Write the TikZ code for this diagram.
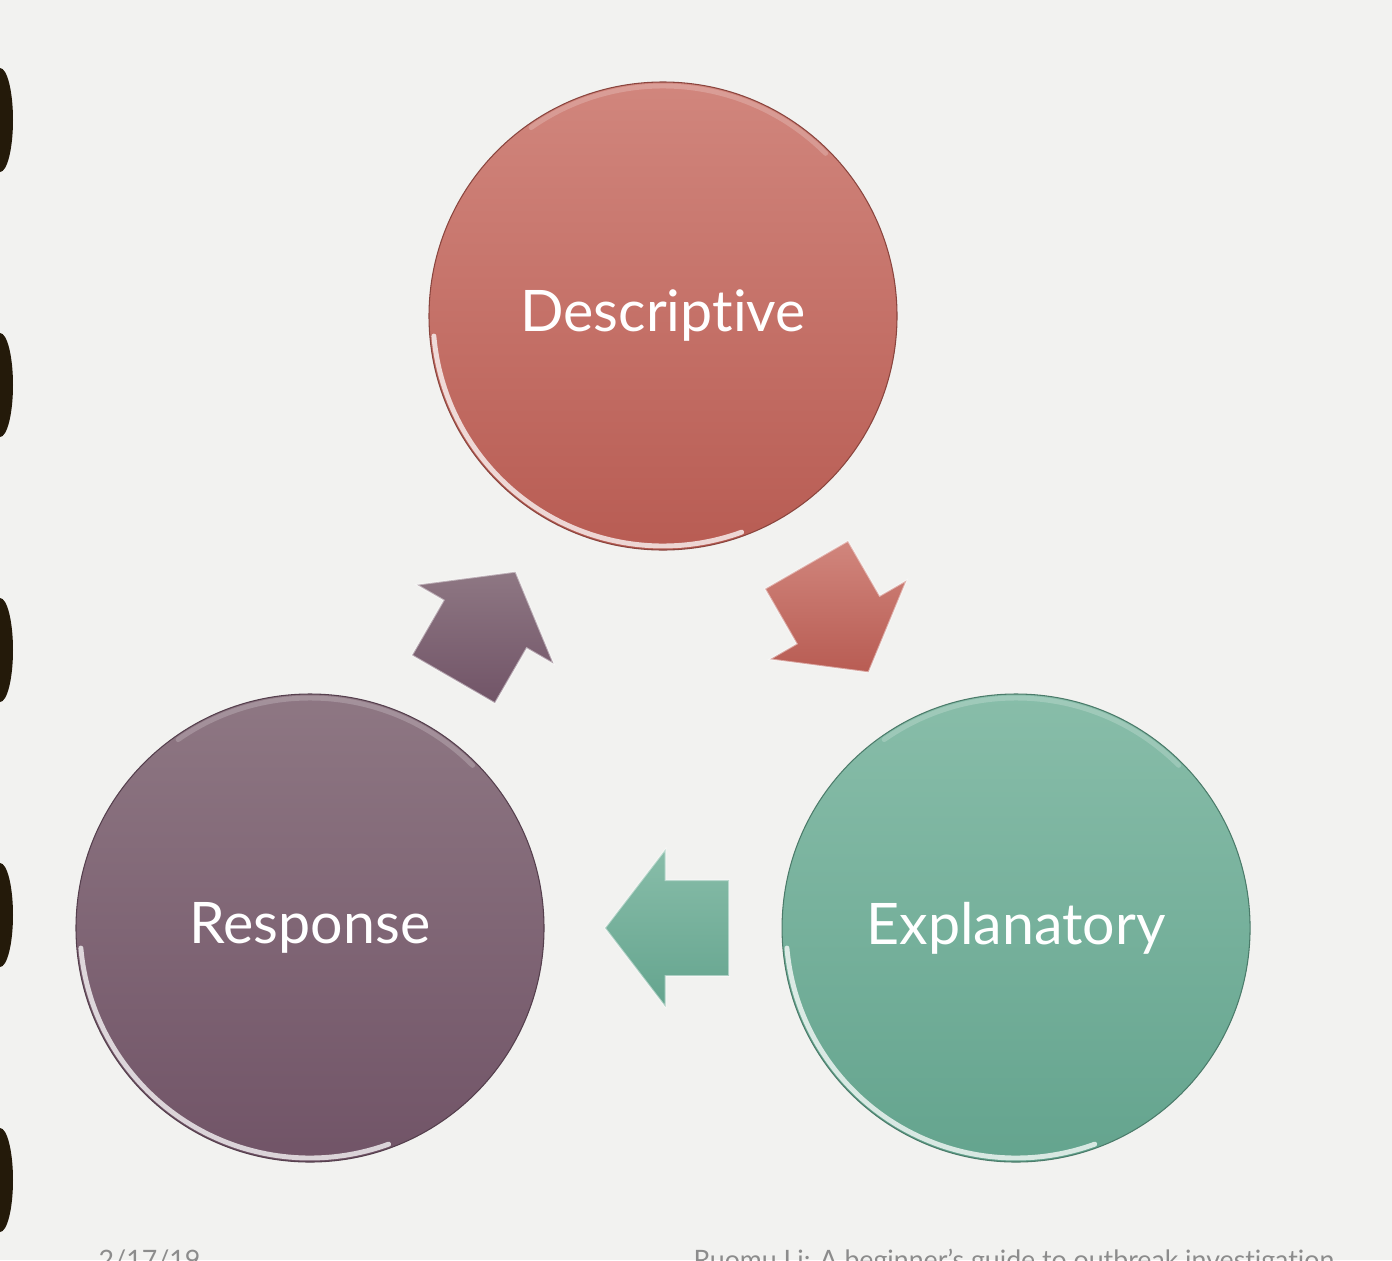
\documentclass[tikz,border=0pt]{standalone}
\usepackage{fontspec}
\setmainfont{Lato}[Ligatures={NoCommon,NoRare}]
\usetikzlibrary{shapes.arrows,positioning,calc}

\definecolor{paper}{HTML}{F2F2F0}
\definecolor{ringdark}{HTML}{241A0A}
\definecolor{descTop}{HTML}{D1867D}
\definecolor{descBot}{HTML}{B85C53}
\definecolor{respTop}{HTML}{8E7783}
\definecolor{respBot}{HTML}{715467}
\definecolor{explTop}{HTML}{88BDA9}
\definecolor{explBot}{HTML}{64A48E}
\definecolor{footgray}{HTML}{8C8C8C}

\tikzset{
    bubble/.style 2 args={circle,
        minimum size=4.68cm,
        inner sep=0,
        top color=#1, bottom color=#2,
        draw=#2!75!black, line width=0.3pt,
        text=white,
        font=\fontsize{16.3}{19}\selectfont},
    blockarrow/.style n args={3}{single arrow,
        minimum height=1.24cm,
        inner xsep=0, inner ysep=0.47cm,
        outer sep=0,
        single arrow head extend=0.31cm,
        single arrow tip angle=105,
        rotate=#3,
        anchor=tip,
        top color=#1, bottom color=#2,
        draw=white, draw opacity=0.45, line width=0.5pt},
    rim/.style={white, line width=1.4pt, line cap=round, opacity=0.75},
    footer/.style={text=footgray, inner sep=0, anchor=base west,
        font=\fontsize{7.6}{9}\selectfont}
}

\begin{document}
\begin{tikzpicture}

        \useasboundingbox (0,0) rectangle (13.92,12.60);
        \fill[paper] (0,0) rectangle (13.92,12.60);

        % binder holes on the left edge
        \foreach \y in {11.40,8.75,6.10,3.45,0.80}
            \fill[ringdark] (0,\y) ellipse [x radius=0.13, y radius=0.52];

        \node[bubble={descTop}{descBot}] (desc) at (6.63,9.44) {Descriptive};

        \node[bubble={respTop}{respBot}] (resp) at (3.10,3.32) {Response};

        \node[bubble={explTop}{explBot},
            right=2.37cm of resp] (expl) {Explanatory};

% Rims
        \foreach \b in {desc,resp,expl}{
            \draw[rim] ([shift={(185:2.30)}]\b.center)
                arc[start angle=185, end angle=290, radius=2.30];
            \draw[rim, opacity=0.2] ([shift={(45:2.30)}]\b.center)
                arc[start angle=45, end angle=125, radius=2.30];
        }

% Arrows
        \node[blockarrow={descTop}{descBot}{-60}]
            (toexpl) at ($(desc)!0.5!(expl)!0.58cm!(expl)$) {};

        \node[blockarrow={explTop}{explBot}{180}]
            (toresp) at ($(expl)!0.5!(resp)!0.58cm!(resp)$) {};

        \node[blockarrow={respTop}{respBot}{60}]
            (todesc) at ($(resp)!0.5!(desc)!0.58cm!(desc)$) {};

        \node[footer] (date) at (0.98,-0.09) {2/17/19};
        \node[footer] (credit) at (6.93,-0.09)
            {Ruomu Li: A beginner’s guide to outbreak investigation};

    \end{tikzpicture}
\end{document}
